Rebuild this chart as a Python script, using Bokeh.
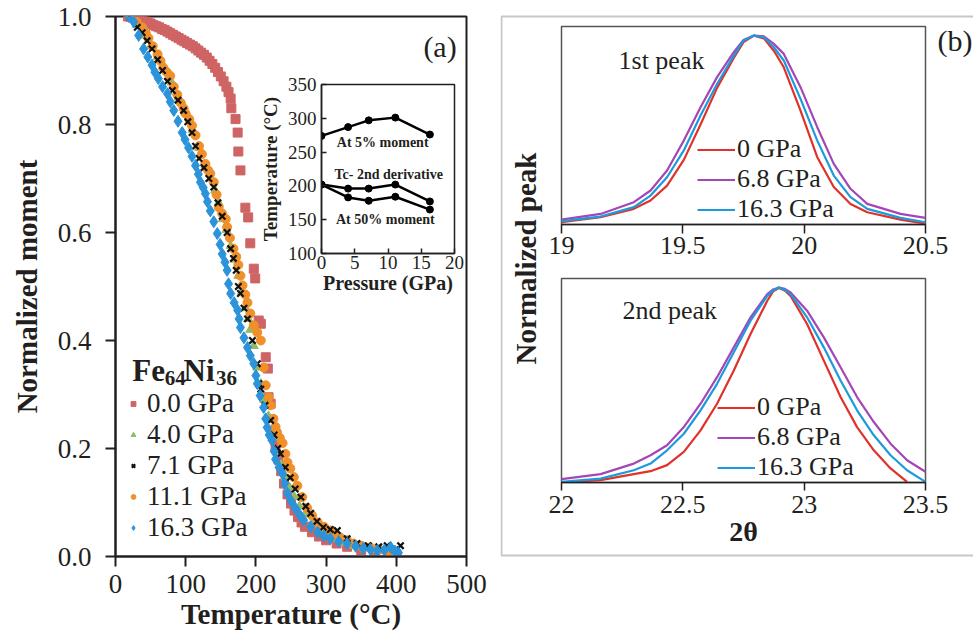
import numpy as np
from bokeh.plotting import figure
from bokeh.models import (Range1d, FixedTicker, NumeralTickFormatter, Legend, LegendItem,
                          Label, BoxAnnotation, CustomJSTickFormatter, Column)
from bokeh.embed import file_html
from bokeh.resources import INLINE

SERIF = "Liberation Serif"
INK = "#231f20"

# ---------------- data: panel (a) normalized moment vs temperature ----------------
t_00 = [18, 22, 26, 30, 34, 38, 42, 46, 50, 54, 58, 62, 66, 70, 74, 78, 82, 86, 90, 94, 98, 102,
        106, 110, 114, 118, 122, 126, 130, 134, 138, 142, 146, 150, 154, 158, 161, 164, 165, 171,
        174, 175, 178, 185, 189, 192, 197, 199, 204, 207, 214, 217, 218, 221, 225, 228, 232, 236,
        240, 245, 250, 255, 260, 265, 270, 280, 290, 300, 315, 330, 350, 370, 390]
m_00 = [1.000, 0.999, 0.998, 0.997, 0.995, 0.993, 0.991, 0.989, 0.987, 0.984, 0.982, 0.980, 0.977,
        0.975, 0.972, 0.969, 0.966, 0.963, 0.960, 0.957, 0.954, 0.951, 0.948, 0.945, 0.941, 0.937,
        0.933, 0.929, 0.924, 0.918, 0.912, 0.905, 0.897, 0.889, 0.880, 0.870, 0.860, 0.848, 0.830,
        0.810, 0.785, 0.750, 0.715, 0.646, 0.628, 0.580, 0.533, 0.515, 0.437, 0.431, 0.369, 0.348,
        0.295, 0.283, 0.233, 0.205, 0.180, 0.158, 0.135, 0.115, 0.098, 0.085, 0.073, 0.063, 0.055,
        0.045, 0.037, 0.030, 0.024, 0.018, 0.012, 0.008, 0.006]

t_40 = [20, 30, 40, 50, 60, 70, 80, 90, 100, 110, 119, 128, 136, 142, 147, 153, 158, 164, 170, 175,
        180, 185, 189, 192, 197, 202, 207, 212, 218, 224, 230, 236, 242, 248, 255, 262, 270, 280,
        290, 300, 312, 325, 340, 355, 370, 385, 400]
m_40 = [1.0, 0.985, 0.965, 0.945, 0.925, 0.905, 0.878, 0.85, 0.823, 0.79, 0.757, 0.725, 0.70, 0.678,
        0.655, 0.625, 0.605, 0.575, 0.55, 0.52, 0.49, 0.46, 0.44, 0.42, 0.39, 0.35, 0.32, 0.29, 0.26,
        0.225, 0.195, 0.17, 0.148, 0.128, 0.11, 0.093, 0.078, 0.062, 0.05, 0.04, 0.033, 0.026, 0.02,
        0.015, 0.012, 0.01, 0.008]

t_71 = [20, 31, 38, 45, 52, 60, 67, 74, 81, 89, 97, 103, 109, 114, 119, 126, 133, 140, 146, 152,
        159, 164, 168, 172, 175, 178, 183, 188, 195, 202, 204, 207, 213, 221, 226, 231, 235, 242,
        249, 256, 264, 271, 278, 287, 296, 306, 316, 330, 344, 360, 375, 387, 398, 406]
m_71 = [1.0, 0.98, 0.97, 0.955, 0.94, 0.92, 0.9, 0.88, 0.863, 0.845, 0.826, 0.805, 0.785, 0.76,
        0.737, 0.72, 0.70, 0.684, 0.655, 0.63, 0.60, 0.57, 0.552, 0.53, 0.50, 0.487, 0.46, 0.44,
        0.40, 0.357, 0.32, 0.31, 0.28, 0.252, 0.225, 0.20, 0.19, 0.165, 0.146, 0.125, 0.11, 0.093,
        0.08, 0.065, 0.054, 0.05, 0.048, 0.033, 0.024, 0.02, 0.018, 0.02, 0.012, 0.02]

t_111 = [20, 30, 38, 43, 47, 53, 60, 64, 68, 73, 78, 83, 88, 93, 97, 100, 105, 109, 114, 119, 123,
         128, 132, 135, 140, 144, 147, 152, 157, 159, 163, 168, 172, 175, 178, 181, 185, 188, 192,
         197, 202, 207, 211, 214, 218, 221, 225, 228, 230, 234, 238, 242, 245, 249, 254, 259, 266,
         273, 280, 288, 297, 306, 313, 320, 330, 339, 350, 363, 375, 388, 401]
m_111 = [1.0, 0.99, 0.98, 0.97, 0.96, 0.945, 0.93, 0.918, 0.905, 0.897, 0.89, 0.87, 0.855, 0.84,
         0.83, 0.82, 0.81, 0.798, 0.78, 0.76, 0.745, 0.727, 0.715, 0.709, 0.693, 0.67, 0.647, 0.635,
         0.625, 0.61, 0.59, 0.57, 0.555, 0.54, 0.52, 0.502, 0.485, 0.47, 0.45, 0.428, 0.415, 0.40,
         0.35, 0.317, 0.295, 0.28, 0.255, 0.24, 0.23, 0.22, 0.21, 0.19, 0.174, 0.163, 0.147, 0.131,
         0.11, 0.09, 0.076, 0.063, 0.055, 0.048, 0.041, 0.035, 0.03, 0.024, 0.02, 0.017, 0.013,
         0.01, 0.007]

t_163 = [19, 26, 33, 40, 46, 52, 56, 61, 67, 74, 78, 83, 89, 95, 99, 104, 109, 114, 118, 121, 125,
         128, 131, 135, 140, 145, 149, 152, 156, 159, 161, 164, 169, 174, 176, 178, 183, 188, 192,
         197, 200, 202, 206, 211, 214, 216, 219, 223, 226, 228, 233, 238, 241, 245, 250, 256, 262,
         268, 278, 288, 297, 306, 318, 330, 342, 353, 363, 373, 383, 392, 398, 403]
m_163 = [1.0, 0.99, 0.965, 0.94, 0.925, 0.91, 0.897, 0.885, 0.87, 0.857, 0.842, 0.826, 0.806, 0.785,
         0.772, 0.757, 0.741, 0.724, 0.708, 0.693, 0.683, 0.672, 0.657, 0.64, 0.62, 0.598, 0.578,
         0.56, 0.545, 0.53, 0.505, 0.487, 0.47, 0.456, 0.44, 0.424, 0.405, 0.387, 0.372, 0.357,
         0.335, 0.32, 0.298, 0.276, 0.255, 0.239, 0.225, 0.215, 0.195, 0.18, 0.165, 0.153, 0.135,
         0.117, 0.103, 0.09, 0.078, 0.067, 0.055, 0.045, 0.038, 0.033, 0.028, 0.024, 0.019, 0.015,
         0.013, 0.011, 0.012, 0.017, 0.01, 0.007]

series_labels = ["0.0 GPa", "4.0 GPa", "7.1 GPa", "11.1 GPa", "16.3 GPa"]

# ---------------- data: inset ----------------
p_inset = [0, 4, 7.1, 11.1, 16.3]
t_5pct = [274, 287, 297, 301, 276]
t_2nd = [202, 196, 196, 202, 177]
t_50pct = [202, 183, 178, 184, 165]

# ---------------- data: panel (b) peaks ----------------
x_p1 = [19.0, 19.161, 19.298, 19.367, 19.435, 19.504, 19.573, 19.641, 19.710, 19.75, 19.793,
        19.834, 19.875, 19.916, 19.985, 20.054, 20.122, 20.191, 20.260, 20.397, 20.5]
p1_0 = [0.012, 0.039, 0.083, 0.127, 0.206, 0.342, 0.529, 0.723, 0.882, 0.965, 1.0, 0.985, 0.92,
        0.832, 0.603, 0.356, 0.198, 0.109, 0.065, 0.026, 0.005]
p1_68 = [0.026, 0.056, 0.118, 0.18, 0.286, 0.444, 0.621, 0.78, 0.912, 0.977, 1.0, 0.996, 0.956,
         0.903, 0.727, 0.515, 0.321, 0.189, 0.109, 0.056, 0.035]
p1_163 = [0.018, 0.042, 0.092, 0.153, 0.25, 0.392, 0.577, 0.744, 0.894, 0.974, 1.0, 0.991, 0.938,
          0.868, 0.665, 0.444, 0.259, 0.145, 0.083, 0.035, 0.012]

x_p2 = [22.0, 22.161, 22.298, 22.367, 22.435, 22.504, 22.573, 22.641, 22.710, 22.779, 22.848,
        22.872, 22.896, 22.92, 22.944, 23.012, 23.081, 23.150, 23.218, 23.287, 23.356, 23.424, 23.5]
p2_0 = [0.0, 0.012, 0.043, 0.058, 0.089, 0.157, 0.267, 0.404, 0.574, 0.761, 0.932, 0.98, 0.997,
        0.985, 0.957, 0.813, 0.625, 0.438, 0.284, 0.165, 0.072, 0.003]
p2_68 = [0.017, 0.043, 0.097, 0.14, 0.191, 0.284, 0.404, 0.54, 0.693, 0.847, 0.966, 0.99, 1.0,
         0.993, 0.974, 0.881, 0.744, 0.591, 0.438, 0.31, 0.199, 0.114, 0.055]
p2_163 = [0.003, 0.02, 0.063, 0.097, 0.165, 0.25, 0.37, 0.506, 0.668, 0.83, 0.957, 0.985, 1.0,
          0.988, 0.966, 0.847, 0.693, 0.523, 0.37, 0.242, 0.14, 0.063, 0.003]
peak_labels = ["0 GPa", "6.8 GPa", "16.3 GPa"]
peak_colors = ["#e0322b", "#a545b8", "#1c9bdc"]


def style_axis(ax, size, tick_out, tick_in, standoff, lw=2):
    ax.major_label_text_font = SERIF
    ax.major_label_text_font_size = size
    ax.major_label_text_color = INK
    ax.axis_line_color = INK
    ax.axis_line_width = lw
    ax.major_tick_line_color = INK
    ax.major_tick_line_width = lw
    ax.major_tick_out = tick_out
    ax.major_tick_in = tick_in
    ax.minor_tick_line_color = None
    ax.major_label_standoff = standoff
    ax.axis_label_text_font = SERIF
    ax.axis_label_text_font_style = "bold"
    ax.axis_label_text_color = INK


def place(fig, left, top):
    fig.styles = {"position": "absolute", "left": f"{left}px", "top": f"{top}px"}


# ================= panel (a) =================
fa = figure(width=498, height=638, x_range=Range1d(0, 500), y_range=Range1d(0, 1),
            output_backend="svg", toolbar_location=None, frame_align=False,
            min_border_left=115, min_border_right=32, min_border_top=16, min_border_bottom=82)
fa.grid.visible = False
fa.outline_line_color = INK
fa.outline_line_width = 2
fa.outline_line_alpha = 1
fa.background_fill_color = "white"
fa.border_fill_color = "white"

fa.xaxis.ticker = FixedTicker(ticks=[0, 100, 200, 300, 400, 500])
fa.yaxis.ticker = FixedTicker(ticks=[0, 0.2, 0.4, 0.6, 0.8, 1.0])
fa.yaxis.formatter = NumeralTickFormatter(format="0.0")
style_axis(fa.xaxis[0], "27px", 10, 0, 8)
style_axis(fa.yaxis[0], "27px", 10, 0, 14)
fa.xaxis.axis_label = "Temperature (°C)"
fa.yaxis.axis_label = "Normalized moment"
fa.xaxis.axis_label_text_font_size = "29px"
fa.yaxis.axis_label_text_font_size = "29px"
fa.xaxis.axis_label_standoff = 2
fa.yaxis.axis_label_standoff = 12

r00 = fa.scatter(t_00, m_00, marker="square", size=9, fill_color="#cf6464", line_color="#cf6464")
r40 = fa.scatter(t_40, m_40, marker="triangle", size=9, fill_color="#8dbd6a", line_color="#8dbd6a")
r111 = fa.scatter(t_111, m_111, marker="circle", size=9, fill_color="#f0902a", line_color="#f0902a")
r71 = fa.scatter(t_71, m_71, marker="x", size=9, line_color="#111111", line_width=2.2)
r163 = fa.scatter(t_163, m_163, marker="diamond", size=12, fill_color="#2b93da", line_color="#2b93da")

leg_a = Legend(items=[LegendItem(label=lab, renderers=[r]) for lab, r in
                      zip(series_labels, [r00, r40, r71, r111, r163])],
               location=(12, 13), padding=0, margin=0, spacing=0,
               glyph_width=12, glyph_height=31, label_height=31, label_standoff=8,
               background_fill_alpha=0, border_line_alpha=0,
               label_text_font=SERIF, label_text_font_size="27px", label_text_color=INK)
fa.add_layout(leg_a)

for txt, x, y, fs in [("Fe", 24, 0.344, "31px"), ("64", 70, 0.330, "21px"),
                      ("Ni", 97, 0.344, "31px"), ("36", 143, 0.330, "21px")]:
    fa.add_layout(Label(x=x, y=y, text=txt, text_font=SERIF, text_font_style="bold",
                        text_font_size=fs, text_color=INK, text_baseline="alphabetic"))
fa.add_layout(Label(x=486, y=0.944, text="(a)", text_font=SERIF, text_font_size="30px",
                    text_color=INK, text_align="right", text_baseline="middle"))
place(fa, 0, 0)

# ================= inset =================
fi = figure(width=212, height=225, x_range=Range1d(0, 20), y_range=Range1d(100, 350),
            output_backend="svg", toolbar_location=None, frame_align=False,
            min_border_left=62, min_border_right=14, min_border_top=10, min_border_bottom=46)
fi.grid.visible = False
fi.border_fill_color = None
fi.background_fill_color = "white"
fi.outline_line_color = INK
fi.outline_line_width = 1.5
fi.outline_line_alpha = 1
fi.xaxis.ticker = FixedTicker(ticks=[0, 5, 10, 15, 20])
fi.yaxis.ticker = FixedTicker(ticks=[100, 150, 200, 250, 300, 350])
style_axis(fi.xaxis[0], "19px", 0, 5, 2, lw=1.5)
style_axis(fi.yaxis[0], "19px", 0, 5, 5, lw=1.5)
fi.xaxis.axis_label = "Pressure (GPa)"
fi.yaxis.axis_label = "Temperature (°C)"
fi.xaxis.axis_label_text_font_size = "20px"
fi.yaxis.axis_label_text_font_size = "19px"
fi.xaxis.axis_label_standoff = 0
fi.yaxis.axis_label_standoff = 4
for ys in [t_5pct, t_2nd, t_50pct]:
    fi.line(p_inset, ys, line_color="black", line_width=2.5)
    fi.scatter(p_inset, ys, marker="circle", size=7, color="black")
for txt, x, y in [("At 5% moment", 9.2, 264), ("Tc- 2nd derivative", 10.1, 217),
                  ("At 50% moment", 9.6, 150)]:
    fi.add_layout(Label(x=x, y=y, text=txt, text_font=SERIF, text_font_style="bold",
                        text_font_size="14px", text_color=INK, text_align="center",
                        text_baseline="middle"))
place(fi, 256, 74)

# ================= panel (b) container =================
fb = figure(width=473, height=638, x_range=Range1d(0, 473), y_range=Range1d(638, 0),
            output_backend="svg", toolbar_location=None, min_border=0, frame_align=False,
            x_axis_location=None, y_axis_location=None)
fb.grid.visible = False
fb.outline_line_color = None
fb.border_fill_color = "white"
fb.background_fill_color = "white"
fb.add_layout(BoxAnnotation(left=1, right=490, top=16, bottom=555, fill_color=None,
                            line_color="#444444", line_width=2))
fb.add_layout(Label(x=25, y=258, text="Normalized peak", angle=np.pi / 2, text_font=SERIF,
                    text_font_style="bold", text_font_size="29px", text_color=INK,
                    text_align="center", text_baseline="middle"))
fb.add_layout(Label(x=437, y=40, text="(b)", text_font=SERIF, text_font_size="30px",
                    text_color=INK, text_align="left", text_baseline="middle"))
place(fb, 500, 0)


def peak_fig(xr, yr_end, top, bottom_border, height):
    f = figure(width=404, height=height, x_range=Range1d(*xr), y_range=Range1d(0, yr_end),
               output_backend="svg", toolbar_location=None, y_axis_location=None,
               frame_align=False,
               min_border_left=16, min_border_right=24, min_border_top=8,
               min_border_bottom=bottom_border)
    f.grid.visible = False
    f.border_fill_color = None
    f.background_fill_color = None
    f.outline_line_color = "#555555"
    f.outline_line_width = 1.5
    f.outline_line_alpha = 1
    f.xaxis.ticker = FixedTicker(ticks=[xr[0], xr[0] + 0.5, xr[0] + 1.0, xr[0] + 1.5])
    f.xaxis.formatter = CustomJSTickFormatter(code="return String(tick)")
    place(f, 545, top)
    return f


fb1 = peak_fig((19.0, 20.5), 1.048, 18, 44, 250)
style_axis(fb1.xaxis[0], "26px", 9, 0, 3, lw=1.5)
l1 = [fb1.line(x_p1, ys, line_color=c, line_width=2.2, line_join="round")
      for ys, c in zip([p1_0, p1_68, p1_163], peak_colors)]
fb1.add_layout(Label(x=19.235, y=0.868, text="1st peak", text_font=SERIF, text_font_size="26px",
                     text_color=INK, text_baseline="middle"))

fb2 = peak_fig((22.0, 23.5), 1.046, 270, 76, 288)
style_axis(fb2.xaxis[0], "26px", 8, 0, 5, lw=1.5)
fb2.xaxis.axis_label = "2θ"
fb2.xaxis.axis_label_text_font_size = "28px"
fb2.xaxis.axis_label_standoff = 0
l2 = [fb2.line(x_p2[:len(p2_0)], p2_0, line_color=peak_colors[0], line_width=2.2, line_join="round"),
      fb2.line(x_p2, p2_68, line_color=peak_colors[1], line_width=2.2, line_join="round"),
      fb2.line(x_p2, p2_163, line_color=peak_colors[2], line_width=2.2, line_join="round")]
fb2.add_layout(Label(x=22.251, y=0.882, text="2nd peak", text_font=SERIF, text_font_size="26px",
                     text_color=INK, text_baseline="middle"))

for f, rs, loc in [(fb1, l1, (136, 0)), (fb2, l2, (156, 0))]:
    f.add_layout(Legend(items=[LegendItem(label=lab, renderers=[r]) for lab, r in zip(peak_labels, rs)],
                        location=loc, padding=0, margin=0, spacing=0,
                        glyph_width=38, glyph_height=29, label_height=29, label_standoff=2,
                        background_fill_alpha=0, border_line_alpha=0,
                        label_text_font=SERIF, label_text_font_size="26px", label_text_color=INK))

root = Column(children=[fa, fb, fi, fb1, fb2], width=973, height=638)
open("out.html", "w").write(file_html(root, INLINE))
